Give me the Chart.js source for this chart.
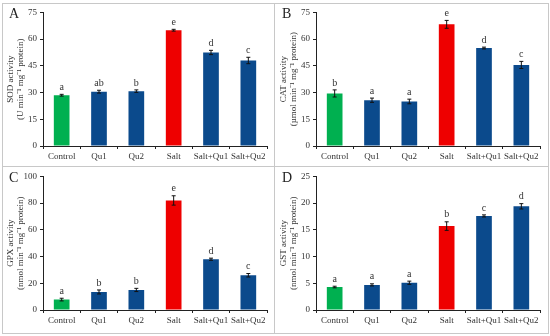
<!DOCTYPE html>
<html><head><meta charset="utf-8">
<script src="https://cdn.jsdelivr.net/npm/chart.js@4/dist/chart.umd.min.js"></script>
<style>
html,body{margin:0;padding:0;background:#fff;width:550px;height:336px;overflow:hidden}
#frame{position:absolute;left:2px;top:3px;width:545px;height:329px;border:1px solid #c8c8c8;box-sizing:content-box}
.vline{position:absolute;left:274px;top:3px;width:1px;height:331px;background:#c8c8c8}
.hline{position:absolute;left:2px;top:166px;width:547px;height:1px;background:#c8c8c8}
.panel{position:absolute;width:270px;height:162px}
.panel canvas{display:block}
.lbl{position:absolute;font:14px "Liberation Serif",serif;color:#222}
</style></head>
<body>
<div id="frame"></div><div class="vline"></div><div class="hline"></div>
<div class="panel" style="left:3px;top:4px"><canvas id="cA" width="270" height="162"></canvas></div>
<div class="panel" style="left:276px;top:4px"><canvas id="cB" width="270" height="162"></canvas></div>
<div class="panel" style="left:3px;top:168px"><canvas id="cC" width="270" height="162"></canvas></div>
<div class="panel" style="left:276px;top:168px"><canvas id="cD" width="270" height="162"></canvas></div>
<div class="lbl" style="left:9px;top:6px">A</div>
<div class="lbl" style="left:282px;top:6px">B</div>
<div class="lbl" style="left:9px;top:170px">C</div>
<div class="lbl" style="left:282px;top:170px">D</div>
<script>
const categories = ["Control","Qu1","Qu2","Salt","Salt+Qu1","Salt+Qu2"];
const barColors = ["#00b050","#0b4a8c","#0b4a8c","#ee0000","#0b4a8c","#0b4a8c"];

const sodValues = [28.5, 30.5, 30.8, 65.0, 52.5, 48.0];
const sodErrors = [0.5, 0.8, 0.7, 0.5, 1.2, 1.8];
const sodLetters = ["a","ab","b","e","d","c"];

const catValues = [29.5, 25.7, 25.0, 68.3, 55.0, 45.5];
const catErrors = [2.0, 1.2, 1.3, 2.2, 0.5, 2.0];
const catLetters = ["b","a","a","e","d","c"];

const gpxValues = [7.8, 13.5, 15.0, 82.0, 38.0, 26.0];
const gpxErrors = [1.0, 1.5, 1.2, 3.5, 0.8, 1.3];
const gpxLetters = ["a","b","b","e","d","c"];

const gstValues = [4.3, 4.7, 5.1, 15.7, 17.6, 19.4];
const gstErrors = [0.15, 0.2, 0.3, 0.8, 0.2, 0.5];
const gstLetters = ["a","a","a","b","c","d"];

const sodTicks = [0,15,30,45,60,75];
const catTicks = [0,15,30,45,60,75];
const gpxTicks = [0,20,40,60,80,100];
const gstTicks = [0,5,10,15,20,25];

const FONT = '"Liberation Serif", "Times New Roman", serif';

const errPlugin = {
  id: 'errbars',
  afterDatasetsDraw(chart) {
    const ctx = chart.ctx;
    const meta = chart.getDatasetMeta(0);
    const ds = chart.data.datasets[0];
    const y = chart.scales.y;
    ctx.save();
    meta.data.forEach((bar, i) => {
      const v = ds.data[i], e = ds.errors[i];
      const x = bar.x;
      const yt = y.getPixelForValue(v + e), yb = y.getPixelForValue(v - e);
      ctx.strokeStyle = '#111';
      ctx.lineWidth = 1;
      ctx.beginPath();
      ctx.moveTo(x, yt); ctx.lineTo(x, yb);
      ctx.moveTo(x - 2, yt); ctx.lineTo(x + 2, yt);
      ctx.moveTo(x - 2, yb); ctx.lineTo(x + 2, yb);
      ctx.stroke();
      ctx.fillStyle = '#333';
      ctx.font = '10px ' + FONT;
      ctx.textAlign = 'center';
      ctx.textBaseline = 'bottom';
      ctx.fillText(ds.letters[i], x, yt - 2);
    });
    ctx.restore();
  }
};

function makeChart(id, values, errors, letters, ticks, title) {
  new Chart(document.getElementById(id), {
    type: 'bar',
    data: {
      labels: categories,
      datasets: [{
        data: values, errors: errors, letters: letters,
        backgroundColor: barColors,
        categoryPercentage: 1.0, barPercentage: 0.42
      }]
    },
    plugins: [errPlugin],
    options: {
      responsive: false, animation: false,
      layout: { padding: { top: 6, right: 6, left: 0, bottom: 0 } },
      plugins: { legend: { display: false }, tooltip: { enabled: false } },
      scales: {
        x: {
          offset: true,
          grid: { display: true, offset: true, drawOnChartArea: false, drawTicks: true, tickLength: 3, color: '#222' },
          border: { display: true, color: '#222', width: 1 },
          ticks: { color: '#333', font: { family: FONT, size: 9 }, maxRotation: 0, autoSkip: false, padding: 2 },
          afterFit(s) { s.height = 20; }
        },
        y: {
          min: ticks[0], max: ticks[ticks.length - 1],
          afterBuildTicks(s) { s.ticks = ticks.map(v => ({ value: v })); },
          grid: { display: true, drawOnChartArea: false, drawTicks: true, tickLength: 3, color: '#222' },
          border: { display: true, color: '#222', width: 1 },
          ticks: { color: '#333', font: { family: FONT, size: 9 }, padding: 3 },
          title: { display: true, text: title, color: '#333', font: { family: FONT, size: 9, lineHeight: 1.15 }, padding: { top: 2, bottom: 2 } },
          afterFit(s) { s.width = 40; }
        }
      }
    }
  });
}

makeChart('cA', sodValues, sodErrors, sodLetters, sodTicks, ['SOD activity', '(U min\u207B\u00B9 mg\u207B\u00B9 protein)']);
makeChart('cB', catValues, catErrors, catLetters, catTicks, ['CAT activity', '(\u00B5mol min\u207B\u00B9 mg\u207B\u00B9 protein)']);
makeChart('cC', gpxValues, gpxErrors, gpxLetters, gpxTicks, ['GPX activity', '(nmol min\u207B\u00B9 mg\u207B\u00B9 protein)']);
makeChart('cD', gstValues, gstErrors, gstLetters, gstTicks, ['GST activity', '(nmol min\u207B\u00B9 mg\u207B\u00B9 protein)']);
</script>
</body></html>
